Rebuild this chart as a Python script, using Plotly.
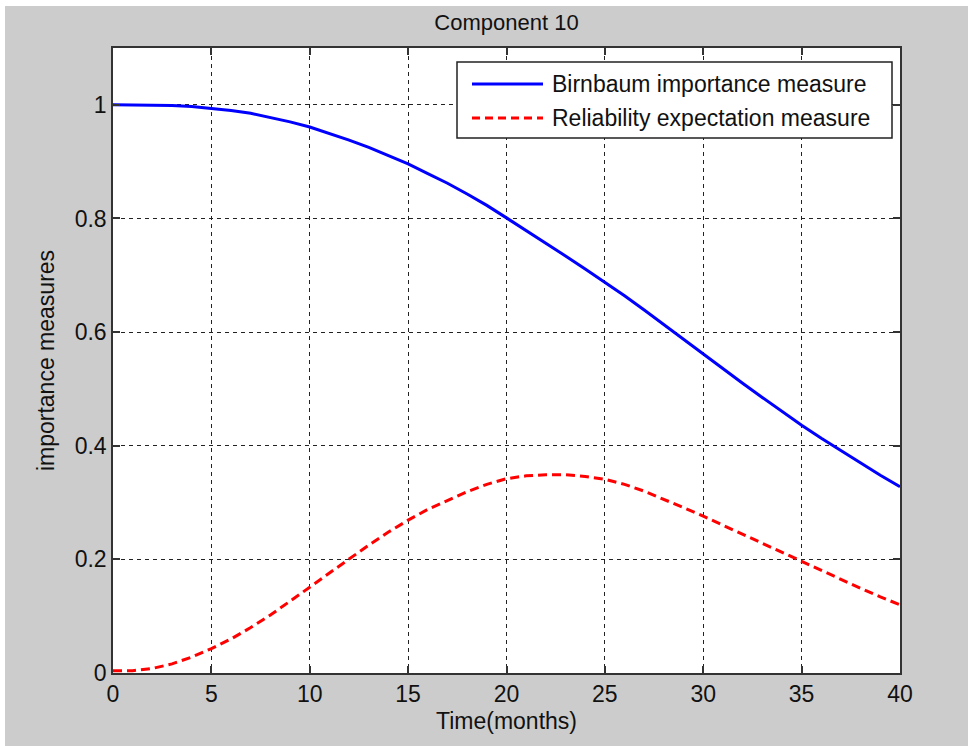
import plotly.graph_objects as go

months = list(range(0, 41))
birnbaum = [1.000, 1.000, 1.000, 0.999, 0.997, 0.994, 0.990, 0.985, 0.978, 0.970,
            0.961, 0.950, 0.938, 0.925, 0.911, 0.896, 0.879, 0.862, 0.843, 0.823,
            0.801, 0.779, 0.757, 0.734, 0.711, 0.688, 0.664, 0.639, 0.613, 0.587,
            0.561, 0.536, 0.510, 0.485, 0.460, 0.436, 0.413, 0.391, 0.369, 0.348,
            0.328]
reliability = [0.004, 0.004, 0.008, 0.016, 0.028, 0.043, 0.060, 0.080, 0.102, 0.126,
               0.151, 0.176, 0.201, 0.225, 0.248, 0.269, 0.288, 0.304, 0.319, 0.332,
               0.342, 0.347, 0.349, 0.349, 0.346, 0.341, 0.332, 0.320, 0.306, 0.291,
               0.276, 0.260, 0.244, 0.228, 0.212, 0.196, 0.180, 0.164, 0.149, 0.134,
               0.120]
series_names = ["Birnbaum importance measure", "Reliability expectation measure"]
x_ticks = [0, 5, 10, 15, 20, 25, 30, 35, 40]
y_ticks = [0, 0.2, 0.4, 0.6, 0.8, 1.0]
y_tick_text = ["0", "0.2", "0.4", "0.6", "0.8", "1"]

W, H = 968, 746
L, R, T, B = 113, 68, 48, 73
pw, ph = W - L - R, H - T - B


def px_x(p):
    return (p - L) / pw


def px_y(p):
    return 1 - (p - T) / ph


FONT = "Liberation Sans, Arial, sans-serif"
TXT = "#111111"
FS = 23

styles = [dict(color="#0000ff", width=3, dash="solid"),
          dict(color="#ff0000", width=3, dash="9px,5px")]

fig = go.Figure()
for vals, name, st in zip([birnbaum, reliability], series_names, styles):
    fig.add_trace(go.Scatter(x=months, y=vals, mode="lines", name=name,
                             line=st, showlegend=False))

axis_common = dict(
    showline=True, linecolor="#333333", linewidth=1.5, mirror="ticks",
    ticks="inside", ticklen=7, tickwidth=1.5, tickcolor="#333333",
    showgrid=True, gridcolor="#222222", gridwidth=1.3, griddash="4px,4px",
    zeroline=False, tickfont=dict(family=FONT, size=FS, color=TXT),
)

shapes = [
    dict(type="rect", xref="paper", yref="paper",
         x0=-L / pw, x1=1 + R / pw, y0=1 + (T - 6) / ph, y1=1 + T / ph,
         fillcolor="#ffffff", line=dict(width=0), layer="above"),
    dict(type="rect", xref="paper", yref="paper",
         x0=-L / pw, x1=(5 - L) / pw, y0=-B / ph, y1=1 + T / ph,
         fillcolor="#ffffff", line=dict(width=0), layer="above"),
    # legend box
    dict(type="rect", xref="paper", yref="paper",
         x0=px_x(457), x1=px_x(892), y0=px_y(138), y1=px_y(62),
         fillcolor="#ffffff", line=dict(color="#222222", width=1.5), layer="above"),
]
annotations = []
for i, (name, st) in enumerate(zip(series_names, styles)):
    row_y = px_y(84 + 34 * i)
    shapes.append(dict(type="line", xref="paper", yref="paper",
                       x0=px_x(472), x1=px_x(543), y0=row_y, y1=row_y,
                       line=dict(color=st["color"], width=st["width"],
                                 dash="solid" if st["dash"] == "solid" else "8px,5px"),
                       layer="above"))
    annotations.append(dict(xref="paper", yref="paper", x=px_x(550), y=row_y,
                            xanchor="left", yanchor="middle", showarrow=False,
                            text=name, font=dict(family=FONT, size=FS, color=TXT)))

fig.update_layout(
    width=W, height=H,
    margin=dict(l=L, r=R, t=T, b=B),
    paper_bgcolor="#cccccc", plot_bgcolor="#ffffff",
    title=dict(text="Component 10", x=(L + pw / 2) / W, xanchor="center",
               y=1 - 22 / H, yanchor="middle",
               font=dict(family=FONT, size=22, color=TXT)),
    xaxis=dict(range=[0, 40], tickvals=x_ticks,
               title=dict(text="Time(months)", standoff=7,
                          font=dict(family=FONT, size=FS, color=TXT)),
               **axis_common),
    yaxis=dict(range=[0, 1.1], tickvals=y_ticks, ticktext=y_tick_text,
               title=dict(text="importance measures", standoff=14,
                          font=dict(family=FONT, size=FS, color=TXT)),
               **axis_common),
    showlegend=False,
    shapes=shapes,
    annotations=annotations,
)

fig.write_html("out.html")
